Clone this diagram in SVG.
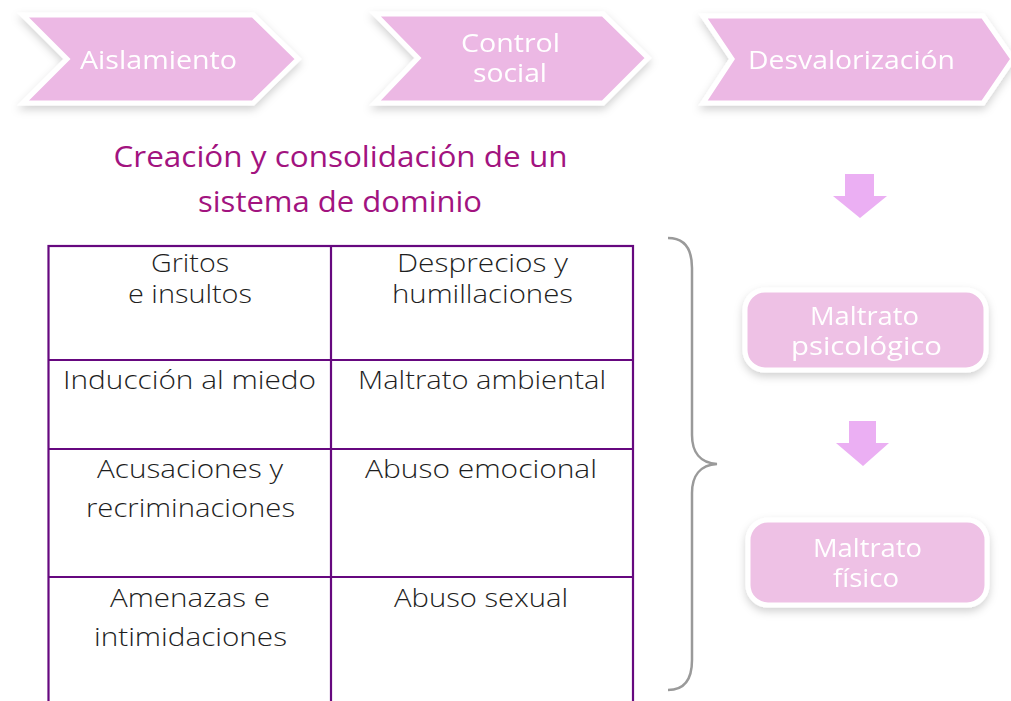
<svg xmlns="http://www.w3.org/2000/svg" width="1011" height="701" viewBox="0 0 1011 701">
  <defs>
    <filter id="sh" x="-10%" y="-20%" width="120%" height="150%">
      <feDropShadow dx="0" dy="4" stdDeviation="4" flood-color="#000" flood-opacity="0.18"/>
    </filter>
    <style>
      .chev { fill: #ECB8E4; stroke: #FFFFFF; stroke-width: 5; stroke-linejoin: miter; }
      .box { fill: #EEC1E5; stroke: #FFFFFF; stroke-width: 5; }
      .wt { fill: #FFFFFF; font-family: "Open Sans", "Liberation Sans", sans-serif; font-size: 26px; text-anchor: middle; }
      .title { fill: #A2137F; font-family: "Open Sans", "Liberation Sans", sans-serif; font-size: 30px; text-anchor: middle; }
      .cell { fill: #1E1E1E; font-family: "Open Sans", "Liberation Sans", sans-serif; font-weight: 300; font-size: 26.5px; text-anchor: middle; }
      .grid { stroke: #66087F; stroke-width: 2.2; fill: none; }
      .arr { fill: #EBAFF3; }
      .brace { fill: none; stroke: #9A9A9A; stroke-width: 2.5; }
    </style>
  </defs>
  <rect width="1011" height="701" fill="#FFFFFF"/>

  <g id="chevron-aislamiento" filter="url(#sh)">
    <polygon class="chev" points="23,15 253,15 298,59 253,103 23,103 67,59"/>
    <text class="wt" x="158.5" y="69" textLength="157" lengthAdjust="spacingAndGlyphs">Aislamiento</text>
  </g>
  <g id="chevron-control-social" filter="url(#sh)">
    <polygon class="chev" points="375,14 603,14 648,58 603,103 375,103 418,58"/>
    <text class="wt" x="510.5" y="52" textLength="99" lengthAdjust="spacingAndGlyphs">Control</text>
    <text class="wt" x="510" y="82" textLength="74" lengthAdjust="spacingAndGlyphs">social</text>
  </g>
  <g id="chevron-desvalorizacion" filter="url(#sh)">
    <polygon class="chev" points="703,16 983,16 1013,59 983,103 703,103 732,59"/>
    <text class="wt" x="851.5" y="69" textLength="207" lengthAdjust="spacingAndGlyphs">Desvalorización</text>
  </g>

  <g id="title">
    <text class="title" x="340.5" y="167" textLength="454" lengthAdjust="spacingAndGlyphs">Creación y consolidación de un</text>
    <text class="title" x="340" y="212" textLength="284" lengthAdjust="spacingAndGlyphs">sistema de dominio</text>
  </g>

  <g id="table">
    <rect class="grid" x="48.5" y="246" width="584.5" height="470"/>
    <line class="grid" x1="331" y1="246" x2="331" y2="701"/>
    <line class="grid" x1="48.5" y1="360" x2="633" y2="360"/>
    <line class="grid" x1="48.5" y1="449" x2="633" y2="449"/>
    <line class="grid" x1="48.5" y1="577" x2="633" y2="577"/>
    <g id="cell-gritos">
      <text class="cell" x="190" y="272" textLength="78" lengthAdjust="spacingAndGlyphs">Gritos</text>
      <text class="cell" x="190" y="303" textLength="124" lengthAdjust="spacingAndGlyphs">e insultos</text>
    </g>
    <g id="cell-desprecios">
      <text class="cell" x="482.5" y="272" textLength="171" lengthAdjust="spacingAndGlyphs">Desprecios y</text>
      <text class="cell" x="482.5" y="303" textLength="181" lengthAdjust="spacingAndGlyphs">humillaciones</text>
    </g>
    <g id="cell-induccion">
      <text class="cell" x="189.5" y="389" textLength="253" lengthAdjust="spacingAndGlyphs">Inducción al miedo</text>
    </g>
    <g id="cell-ambiental">
      <text class="cell" x="482" y="389" textLength="248" lengthAdjust="spacingAndGlyphs">Maltrato ambiental</text>
    </g>
    <g id="cell-acusaciones">
      <text class="cell" x="190" y="478" textLength="186" lengthAdjust="spacingAndGlyphs">Acusaciones y</text>
      <text class="cell" x="190.5" y="517" textLength="209" lengthAdjust="spacingAndGlyphs">recriminaciones</text>
    </g>
    <g id="cell-emocional">
      <text class="cell" x="481" y="478" textLength="232" lengthAdjust="spacingAndGlyphs">Abuso emocional</text>
    </g>
    <g id="cell-amenazas">
      <text class="cell" x="190" y="607" textLength="160" lengthAdjust="spacingAndGlyphs">Amenazas e</text>
      <text class="cell" x="190.5" y="646" textLength="193" lengthAdjust="spacingAndGlyphs">intimidaciones</text>
    </g>
    <g id="cell-sexual">
      <text class="cell" x="481" y="607" textLength="174" lengthAdjust="spacingAndGlyphs">Abuso sexual</text>
    </g>
  </g>

  <g id="connectors">
    <path class="brace" d="M668,238 C685,238 692,250 692,268 L692,435 C692,452 700,463 717,464 C700,465 692,476 692,493 L692,660 C692,678 685,690 668,690"/>
    <polygon class="arr" points="845,174 874,174 874,196 887,196 860,218 833,196 845,196"/>
    <polygon class="arr" points="849,421 876,421 876,443 889,443 863,466 836,443 849,443"/>
  </g>

  <g id="box-psicologico" filter="url(#sh)">
    <rect class="box" x="745" y="290" width="241" height="80" rx="20"/>
    <text class="wt" x="864.5" y="325" textLength="109" lengthAdjust="spacingAndGlyphs">Maltrato</text>
    <text class="wt" x="866.5" y="355" textLength="151" lengthAdjust="spacingAndGlyphs">psicológico</text>
  </g>
  <g id="box-fisico" filter="url(#sh)">
    <rect class="box" x="748" y="520" width="239" height="85" rx="20"/>
    <text class="wt" x="867.5" y="557" textLength="109" lengthAdjust="spacingAndGlyphs">Maltrato</text>
    <text class="wt" x="866" y="587" textLength="66" lengthAdjust="spacingAndGlyphs">físico</text>
  </g>
</svg>
